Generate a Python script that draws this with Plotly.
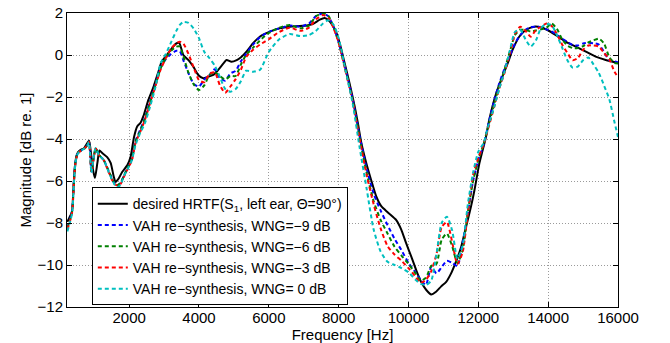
import plotly.graph_objects as go

# ---------------- data ----------------
freq_desired = [230, 300, 360, 400, 440, 480, 530, 610, 700, 760, 850, 894, 963, 1020,
                1090, 1150, 1230, 1370, 1470, 1560, 1610, 1700, 1800, 1950, 2040, 2140,
                2230, 2320, 2410, 2550, 2700, 2840, 2930, 3080, 3220, 3360, 3440, 3550,
                3700, 3840, 3980, 4120, 4270, 4410, 4550, 4700, 4790, 4930, 5080, 5220,
                5360, 5550, 5740, 6030, 6310, 6600, 6890, 7120, 7270, 7460, 7600, 7740,
                7900, 8030, 8170, 8310, 8460, 8550, 8650, 8790, 8930, 9080, 9220, 9410,
                9650, 9790, 9930, 10080, 10220, 10360, 10510, 10650, 10790, 10930, 11080,
                11220, 11360, 11510, 11650, 11790, 11890, 12030, 12220, 12310, 12510,
                12690, 12840, 12980, 13170, 13360, 13600, 13790, 13980, 14220, 14510,
                14790, 15080, 15360, 15650, 16000]
mag_desired = [-7.95, -7.7, -7.5, -6.5, -5.4, -4.9, -4.65, -4.52, -4.45, -4.3, -4.08, -4.5,
               -5.45, -5.86, -5.14, -4.55, -4.67, -4.86, -5.14, -5.8, -6.05, -5.88, -5.57,
               -5.24, -4.86, -3.9, -3.4, -3.24, -2.9, -2.14, -1.5, -0.79, -0.32, 0.0, 0.32,
               0.56, 0.56, 0.0, -0.24, -0.56, -0.95, -1.11, -1.03, -0.95, -0.71, -0.4,
               -0.24, -0.32, -0.24, -0.08, 0.16, 0.56, 0.87, 1.11, 1.27, 1.35, 1.38, 1.42,
               1.48, 1.68, 1.76, 1.6, 1.2, 0.56, -0.38, -1.33, -2.46, -3.24, -4.19, -5.14,
               -5.95, -6.75, -7.2, -7.5, -7.86, -8.3, -8.95, -9.6, -10.24, -10.8, -11.19,
               -11.4, -11.27, -11.03, -10.8, -10.4, -9.84, -9.13, -8.17, -7.22, -6.43,
               -5.16, -3.89, -3.1, -1.83, -1.03, -0.4, 0.24, 0.87, 1.19, 1.35, 1.32, 1.19,
               0.95, 0.63, 0.4, 0.16, -0.08, -0.24, -0.38]

freq_vah = [230, 300, 370, 420, 470, 530, 620, 720, 800, 850, 920, 980, 1040, 1130, 1270,
            1420, 1560, 1650, 1750, 1850, 1950, 2080, 2180, 2320, 2450, 2600, 2750, 2900,
            3050, 3200, 3350, 3450, 3550, 3700, 3850, 4000, 4150, 4300, 4450, 4600, 4750,
            4900, 5050, 5200, 5350, 5550, 5750, 6000, 6300, 6600, 6900, 7150, 7350, 7550,
            7700, 7850, 8000, 8200, 8400, 8600, 8800, 9000, 9200, 9400, 9600, 9800, 10000,
            10200, 10350, 10500, 10650, 10800, 10950, 11100, 11250, 11400, 11550, 11700,
            11850, 12000, 12150, 12300, 12450, 12600, 12750, 12900, 13050, 13200, 13350,
            13500, 13650, 13800, 13950, 14100, 14250, 14400, 14550, 14700, 14850, 15000,
            15150, 15300, 15450, 15600, 15750, 15900, 16000]

mag_wng_m9 = [-8.2, -7.85, -7.35, -5.95, -5.0, -4.65, -4.55, -4.45, -4.3, -4.12, -5.55, -4.95,
              -4.45, -4.75, -5.0, -5.55, -6.05, -6.2, -6.1, -5.75, -5.4, -4.95, -4.1, -3.55,
              -3.0, -2.2, -1.4, -0.6, -0.2, 0.05, 0.2, 0.18, -0.24, -0.87, -1.38, -1.5,
              -1.17, -0.95, -0.68, -1.1, -1.22, -0.88, -0.75, -0.3, 0.05, 0.5, 0.85, 1.1,
              1.27, 1.4, 1.35, 1.5, 1.85, 1.98, 1.85, 1.35, 0.6, -0.7, -2.1, -3.85, -5.4,
              -6.6, -7.4, -8.1, -8.75, -9.3, -9.9, -10.35, -10.7, -10.95, -10.1, -10.4,
              -10.1, -9.8, -9.9, -10.05, -8.95, -7.5, -6.0, -5.0, -4.3, -3.2, -2.2, -1.35,
              -0.65, -0.05, 0.55, 0.95, 1.2, 1.33, 1.35, 1.32, 1.22, 1.12, 0.95, 0.78, 0.62,
              0.48, 0.45, 0.55, 0.58, 0.56, 0.5, 0.15, -0.25, -0.3, -0.35]

mag_wng_m6 = [-8.25, -7.9, -7.4, -6.0, -5.0, -4.65, -4.55, -4.45, -4.3, -4.12, -5.55, -4.95,
              -4.45, -4.75, -5.0, -5.55, -6.05, -6.2, -6.1, -5.75, -5.4, -4.95, -4.15, -3.6,
              -3.05, -2.25, -1.45, -0.65, -0.15, 0.2, 0.4, 0.4, -0.05, -0.85, -1.4, -1.67,
              -1.45, -0.95, -0.82, -1.0, -1.17, -1.0, -1.0, -0.45, 0.0, 0.35, 0.7, 1.05,
              1.3, 1.43, 1.27, 1.4, 1.85, 1.98, 1.88, 1.35, 0.6, -0.75, -2.15, -3.95, -5.6,
              -6.95, -7.85, -8.5, -9.13, -9.55, -9.95, -10.4, -10.75, -10.6, -10.05, -9.95,
              -8.8, -8.5, -9.1, -9.9, -9.3, -7.5, -6.0, -5.0, -4.25, -3.3, -2.35, -1.45,
              -0.7, 0.15, 0.95, 1.2, 1.19, 1.12, 1.17, 1.22, 1.3, 1.5, 1.25, 0.75, 0.45,
              0.33, 0.33, 0.42, 0.6, 0.7, 0.78, 0.55, -0.1, -0.38, -0.4]

mag_wng_m3 = [-8.3, -7.95, -7.45, -6.0, -5.05, -4.7, -4.55, -4.45, -4.3, -4.13, -5.6, -4.95,
              -4.45, -4.75, -5.0, -5.6, -6.1, -6.2, -6.15, -5.8, -5.45, -5.0, -4.2, -3.65,
              -3.1, -2.3, -1.5, -0.7, -0.15, 0.3, 0.55, 0.63, 0.55, 0.05, -0.6, -1.2, -1.3,
              -0.9, -0.82, -1.45, -1.8, -1.5, -1.15, -0.7, -0.1, 0.25, 0.5, 0.75, 1.1, 1.3,
              1.15, 1.3, 1.7, 1.9, 1.78, 1.3, 0.6, -0.8, -2.2, -4.0, -5.7, -7.1, -8.25,
              -9.1, -9.5, -9.8, -10.15, -10.55, -10.85, -10.7, -10.3, -9.5, -8.2, -7.95,
              -8.9, -9.95, -9.4, -7.5, -5.7, -4.9, -4.25, -3.4, -2.5, -1.6, -0.85, 0.05,
              1.0, 1.35, 1.15, 0.87, 1.19, 1.35, 1.5, 1.38, 1.0, 0.5, 0.1, -0.25, -0.15,
              0.25, 0.45, 0.45, 0.4, 0.1, -0.2, -0.8, -1.05]

mag_wng_0 = [-8.4, -8.0, -7.5, -6.05, -5.05, -4.7, -4.55, -4.45, -4.3, -4.15, -5.6, -4.9,
             -4.43, -4.75, -5.0, -5.6, -6.1, -6.3, -6.2, -5.75, -5.45, -5.0, -4.3, -3.7,
             -3.25, -2.45, -1.55, -0.4, 0.05, 0.6, 1.15, 1.43, 1.57, 1.53, 1.25, 0.8, 0.15,
             -0.15, -0.5, -1.05, -1.62, -1.75, -1.62, -1.25, -0.75, -0.8, -0.7, 0.15, 0.75,
             1.0, 0.9, 0.95, 1.15, 1.5, 1.65, 1.45, 0.8, -0.75, -2.3, -4.4, -6.35, -8.3,
             -9.35, -9.85, -10.0, -10.15, -10.35, -10.7, -10.9, -10.95, -10.75, -9.5, -8.0,
             -7.7, -8.35, -9.7, -9.1, -7.1, -5.6, -4.6, -4.2, -3.3, -2.5, -1.6, -0.8, 0.2,
             1.1, 1.2, 0.75, 0.4, 0.7, 1.3, 1.47, 1.42, 0.95, 0.35, -0.25, -0.6, -0.55,
             -0.25, -0.12, -0.45, -0.85, -1.45, -2.1, -3.2, -3.9]

series_names = [
    "desired HRTF(S<sub>1</sub>, left ear, \u0398=90\u00b0)",
    "VAH re\u2212synthesis, WNG=\u22129 dB",
    "VAH re\u2212synthesis, WNG=\u22126 dB",
    "VAH re\u2212synthesis, WNG=\u22123 dB",
    "VAH re\u2212synthesis, WNG= 0 dB",
]
series_colors = ["#000000", "#0000FF", "#008000", "#FF0000", "#00BFBF"]

x_ticks = [2000, 4000, 6000, 8000, 10000, 12000, 14000, 16000]
y_ticks = [2, 0, -2, -4, -6, -8, -10, -12]

# ---------------- figure ----------------
FONT = "Arial, Liberation Sans, Helvetica, sans-serif"
fig = go.Figure()

fig.add_trace(go.Scatter(x=freq_desired, y=mag_desired, mode="lines",
                         name=series_names[0],
                         line=dict(color=series_colors[0], width=2,
                                   shape="spline", smoothing=0.6)))
for name, col, vals in zip(series_names[1:], series_colors[1:],
                           [mag_wng_m9, mag_wng_m6, mag_wng_m3, mag_wng_0]):
    fig.add_trace(go.Scatter(x=freq_vah, y=vals, mode="lines", name=name,
                             line=dict(color=col, width=2, dash="4px,3px",
                                       shape="spline", smoothing=0.6)))

axis_common = dict(
    showline=True, linecolor="black", linewidth=1, mirror="ticks",
    ticks="inside", ticklen=5, tickcolor="black", tickwidth=1,
    showgrid=True, gridcolor="#9a9a9a", gridwidth=1, griddash="1px,2px",
    zeroline=False, automargin=False, ticklabeloverflow="allow",
    tickfont=dict(family=FONT, size=15, color="black"),
)

fig.update_xaxes(range=[220, 16000], tickvals=x_ticks,
                 ticktext=[str(v) for v in x_ticks], ticklabelstandoff=-3,
                 title=dict(text="Frequency [Hz]", standoff=0,
                            font=dict(family=FONT, size=15, color="black")),
                 **axis_common)
fig.update_yaxes(range=[-12, 2], tickvals=y_ticks,
                 title=dict(text="Magnitude [dB re. 1]", standoff=2,
                            font=dict(family=FONT, size=15, color="black")),
                 **axis_common)

fig.update_layout(
    width=670, height=343,
    margin=dict(l=67, r=52, t=13, b=36),
    paper_bgcolor="white", plot_bgcolor="white",
    font=dict(family=FONT, size=15, color="black"),
    legend=dict(x=0.045, y=0.006, xanchor="left", yanchor="bottom",
                bgcolor="white", bordercolor="black", borderwidth=1,
                font=dict(family=FONT, size=14, color="black"),
                itemwidth=30, tracegroupgap=0),
    showlegend=True,
)

# remove the browser's default 8px body margin so the figure sits at the page origin
fig.write_html("out.html",
               config={"displayModeBar": False},
               post_script="document.body.style.margin='0';document.body.style.padding='0';")
